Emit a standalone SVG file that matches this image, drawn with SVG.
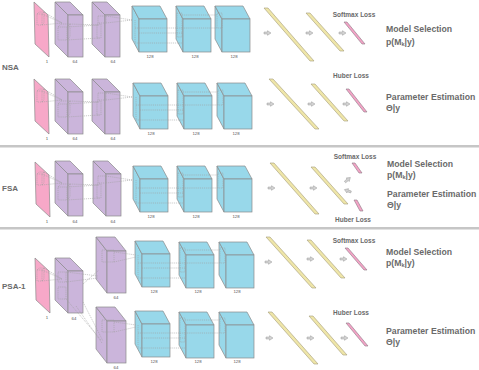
<svg xmlns="http://www.w3.org/2000/svg" width="479" height="370" viewBox="0 0 479 370">
<style>
text{font-family:"Liberation Sans",Arial,sans-serif;fill:#6a6a6a}
.num{font-size:4.3px;text-anchor:middle;fill:#555}
.loss{font-size:6.5px;font-weight:bold;text-anchor:middle;fill:#6a6a6a}
.out{font-size:8.7px;font-weight:bold}
.row{font-size:8px;font-weight:bold}
.pk{fill:#f7a8c8;stroke:#8a8a8a;stroke-width:.7}
.pu{fill:#cbb5db;stroke:#8a8a8a;stroke-width:.7}
.cy{fill:#98d8ea;stroke:#8a8a8a;stroke-width:.7}
.fc{fill:#efe6a8;stroke:#a39b78;stroke-width:.6}
.sm{fill:#f4a3c6;stroke:#8a7a85;stroke-width:.6}
.ds{fill:none;stroke:#a0a0a0;stroke-width:.55;stroke-dasharray:1.2 .9}
.ar{fill:#d2d2d2;stroke:#9c9c9c;stroke-width:.5}
.sep{fill:#c6c6c6}
</style>
<defs>
<g id="pl"><polygon class="pk" points="0,0 14,13 15,55 1,42"/></g>
<g id="pu"><polygon class="pu" points="0,0 13,13 13,55 0,42"/><polygon class="pu" points="0,0 15,0 28,13 13,13"/><rect class="pu" x="13" y="13" width="15" height="42"/></g>
<g id="puB"><polygon class="pu" points="0,0 11,14 11,56 0,42"/><polygon class="pu" points="0,0 19,0 30,14 11,14"/><rect class="pu" x="11" y="14" width="19" height="42"/></g>
<g id="cy"><polygon class="cy" points="0,0 7,13 7,46 0,33"/><polygon class="cy" points="0,0 28,0 35,13 7,13"/><rect class="cy" x="7" y="13" width="28" height="33"/></g>
<path id="ar" class="ar" d="M0,-1H3.5V-2.3L7,0L3.5,2.3V1H0Z"/>
<g id="dP" class="ds">
<path d="M37,14h5v11h-5z M37,14l2,-2h5l-2,2 M44,12v11l-2,2"/>
<path d="M42,14L62,23 M42,25L62,23 M44,12L62,23"/>
<path d="M58,27h9v13h-9z M58,27l3,-3h9l-3,3 M70,24v13l-3,3"/>
<path d="M67,27L99,25 M67,40L99,38 M70,24L99,25"/>
<path d="M97,24h4v14h-4z M98,16h8v7h-8z"/>
<path d="M106,16L132,20 M106,23L132,20"/>
</g>
<g id="dC" class="ds">
<path d="M135,20V43 M135,28H182 M139,33H182 M135,43H182"/>
<path d="M177,13h5v24h-5z M182,15H217 M182,28H217"/>
<path d="M217,13h5v15h-5z"/>
</g>
</defs>

<rect x="0" y="0" width="479" height="370" fill="#fff"/>
<rect class="sep" x="0" y="145" width="479" height="2.5"/>
<rect class="sep" x="0" y="227" width="479" height="2.5"/>

<text class="row" x="2" y="70">NSA</text>
<text class="row" x="2" y="191">FSA</text>
<text class="row" x="2" y="289">PSA-1</text>

<!-- NSA row A -->
<g id="nsaA-in"><use href="#pl" x="34" y="2"/><text class="num" x="47" y="63">1</text></g>
<g id="nsaA-c1"><use href="#pu" x="55" y="2"/><text class="num" x="75" y="63">64</text></g>
<g id="nsaA-c2"><use href="#pu" x="92" y="2"/><text class="num" x="113" y="63">64</text></g>
<g id="nsaA-c3"><use href="#cy" x="132" y="6"/><text class="num" x="150" y="58">128</text></g>
<g id="nsaA-c4"><use href="#cy" x="176" y="6"/><text class="num" x="195" y="58">128</text></g>
<g id="nsaA-c5"><use href="#cy" x="215" y="6"/><text class="num" x="234" y="58">128</text></g>
<g id="nsaA-fc1"><polygon class="fc" points="264,8 268,8 314,61 310,61"/></g>
<g id="nsaA-fc2"><polygon class="fc" points="306,13 310,13 344,51 340,51"/></g>
<g id="nsaA-out"><polygon class="sm" points="344,22 347,22 365,44 362,44"/><text class="loss" x="354" y="17">Softmax Loss</text></g>
<g id="nsaA-lbl"><text class="out" x="386" y="32">Model Selection</text><text class="out" x="386" y="45">p(M<tspan font-size="5.5" dy="1">k</tspan><tspan dy="-1">|y)</tspan></text></g>

<!-- NSA row B -->
<g id="nsaB-in"><use href="#pl" x="34" y="79"/><text class="num" x="47" y="140">1</text></g>
<g id="nsaB-c1"><use href="#pu" x="55" y="79"/><text class="num" x="75" y="140">64</text></g>
<g id="nsaB-c2"><use href="#pu" x="92" y="79"/><text class="num" x="113" y="140">64</text></g>
<g id="nsaB-c3"><use href="#cy" x="133" y="83"/><text class="num" x="151" y="135">128</text></g>
<g id="nsaB-c4"><use href="#cy" x="177" y="83"/><text class="num" x="196" y="135">128</text></g>
<g id="nsaB-c5"><use href="#cy" x="217" y="83"/><text class="num" x="236" y="135">128</text></g>
<g id="nsaB-fc1"><polygon class="fc" points="269,79 273,79 319,129 315,129"/></g>
<g id="nsaB-fc2"><polygon class="fc" points="311,84 315,84 348,121 344,121"/></g>
<g id="nsaB-out"><polygon class="sm" points="346,89 349,89 367,112 364,112"/><text class="loss" x="351" y="78">Huber Loss</text></g>
<g id="nsaB-lbl"><text class="out" x="386" y="100">Parameter Estimation</text><text class="out" x="386" y="111">Θ|y</text></g>

<!-- FSA -->
<g id="fsa-in"><use href="#pl" x="35" y="162"/><text class="num" x="47" y="223">1</text></g>
<g id="fsa-c1"><use href="#pu" x="55" y="161"/><text class="num" x="75" y="223">64</text></g>
<g id="fsa-c2"><use href="#pu" x="93" y="161"/><text class="num" x="113" y="223">64</text></g>
<g id="fsa-c3"><use href="#cy" x="133" y="166"/><text class="num" x="151" y="218">128</text></g>
<g id="fsa-c4"><use href="#cy" x="177" y="166"/><text class="num" x="196" y="218">128</text></g>
<g id="fsa-c5"><use href="#cy" x="217" y="166"/><text class="num" x="236" y="218">128</text></g>
<g id="fsa-fc1"><polygon class="fc" points="270,163 274,163 319,214 315,214"/></g>
<g id="fsa-fc2"><polygon class="fc" points="311,167 315,167 348,204 344,204"/></g>
<g id="fsa-out1"><polygon class="sm" points="352,163 355,163 362,173 359,173"/><text class="loss" x="355" y="159">Softmax Loss</text></g>
<g id="fsa-out2"><polygon class="sm" points="354,200 357,200 363,211 360,211"/><text class="loss" x="353" y="222">Huber Loss</text></g>
<g id="fsa-lbl"><text class="out" x="387" y="167">Model Selection</text><text class="out" x="387" y="178">p(M<tspan font-size="5.5" dy="1">k</tspan><tspan dy="-1">|y)</tspan></text><text class="out" x="387" y="197">Parameter Estimation</text><text class="out" x="387" y="208">Θ|y</text></g>

<!-- PSA-1 -->
<g id="psa-in"><use href="#pl" x="35" y="258"/><text class="num" x="47" y="319">1</text></g>
<g id="psa-c1"><use href="#pu" x="55" y="258"/><text class="num" x="74" y="320">64</text></g>
<g id="psaA-c2"><use href="#puB" x="96" y="237"/><text class="num" x="116" y="299">64</text></g>
<g id="psaB-c2"><use href="#puB" x="96" y="307"/><text class="num" x="116" y="369">64</text></g>
<g id="psaA-c3"><use href="#cy" x="135" y="241"/><text class="num" x="154" y="293">128</text></g>
<g id="psaA-c4"><use href="#cy" x="179" y="242"/><text class="num" x="198" y="293">128</text></g>
<g id="psaA-c5"><use href="#cy" x="219" y="242"/><text class="num" x="237" y="293">128</text></g>
<g id="psaB-c3"><use href="#cy" x="135" y="311"/><text class="num" x="154" y="363">128</text></g>
<g id="psaB-c4"><use href="#cy" x="179" y="312"/><text class="num" x="198" y="363">128</text></g>
<g id="psaB-c5"><use href="#cy" x="219" y="312"/><text class="num" x="237" y="363">128</text></g>
<g id="psaA-fc1"><polygon class="fc" points="266,237 270,237 316,288 312,288"/></g>
<g id="psaA-fc2"><polygon class="fc" points="307,240 311,240 345,278 341,278"/></g>
<g id="psaA-out"><polygon class="sm" points="345,248 348,248 367,270 364,270"/><text class="loss" x="354" y="243">Softmax Loss</text></g>
<g id="psaA-lbl"><text class="out" x="386" y="255">Model Selection</text><text class="out" x="386" y="266">p(M<tspan font-size="5.5" dy="1">k</tspan><tspan dy="-1">|y)</tspan></text></g>
<g id="psaB-fc1"><polygon class="fc" points="268,312 272,312 318,364 314,364"/></g>
<g id="psaB-fc2"><polygon class="fc" points="309,316 313,316 347,355 343,355"/></g>
<g id="psaB-out"><polygon class="sm" points="346,323 349,323 368,346 365,346"/><text class="loss" x="351" y="315">Huber Loss</text></g>
<g id="psaB-lbl"><text class="out" x="386" y="334">Parameter Estimation</text><text class="out" x="386" y="345">Θ|y</text></g>

<g id="connectors">
<use href="#dP"/><use href="#dC"/>
<use href="#dP" y="77"/><use href="#dC" x="1" y="77"/>
<use href="#dP" y="160"/><use href="#dC" x="1" y="160"/>
<use href="#dC" x="3" y="235"/><use href="#dC" x="3" y="305"/>
<g class="ds">
<path d="M37,270h5v11h-5z M37,270l2,-2h5l-2,2 M44,268v11l-2,2 M42,270L62,279 M42,281L62,279 M44,268L62,279"/>
<path d="M58,272h8v10h-8z M58,287h8v12h-8z"/>
<path d="M66,272L98,276 M66,282L98,278 M83,284L99,270"/>
<path d="M66,299L101,340 M76,306L102,343 M83,302L103,341"/>
<path d="M102,250h12v12h-12z M114,252L136,255 M114,262L136,257"/>
<path d="M102,320h12v12h-12z M114,322L136,325 M114,332L136,327"/>
</g>
<use href="#ar" x="264" y="33"/><use href="#ar" x="306" y="33"/><use href="#ar" x="339" y="33"/>
<use href="#ar" x="267" y="104"/><use href="#ar" x="308" y="104"/><use href="#ar" x="343" y="104"/>
<use href="#ar" x="268" y="188"/><use href="#ar" x="310" y="188"/>
<use href="#ar" transform="translate(345,182) rotate(-40)"/>
<use href="#ar" transform="translate(351,192) rotate(200)"/>
<use href="#ar" x="265" y="262"/><use href="#ar" x="307" y="259"/><use href="#ar" x="340" y="259"/>
<use href="#ar" x="266" y="338"/><use href="#ar" x="307" y="338"/><use href="#ar" x="341" y="338"/>
</g>
</svg>
